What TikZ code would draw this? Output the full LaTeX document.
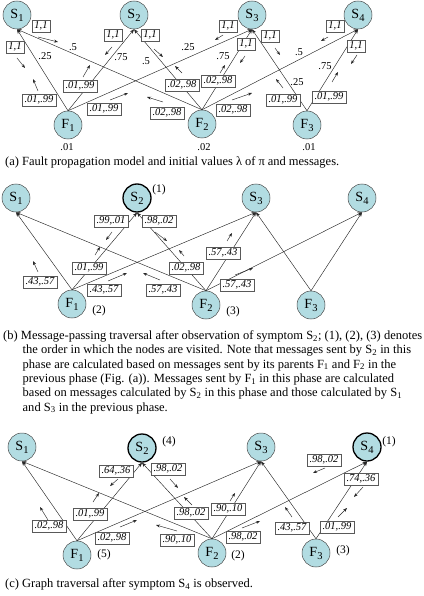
\documentclass[tikz,border=0pt]{standalone}
\usepackage{fontspec}
\setmainfont{Liberation Serif}
\usetikzlibrary{arrows.meta}
\definecolor{nodeblue}{RGB}{178,220,226}
\newcommand\msgarrow[3]{\coordinate (#1s) at (#2); \coordinate (#1e) at (#3); \draw[marr] (#1s) -- (#1e);}
\newcommand\nsub[1]{\raisebox{-3pt}{\fontsize{10.5}{10.5}\selectfont #1}}
\begin{document}
\begin{tikzpicture}[x=1pt,y=-1pt,
  fnode/.style={circle,draw=black!70,fill=nodeblue,line width=0.5pt,minimum size=28pt,inner sep=0pt,font=\fontsize{14}{14}\selectfont},
  obs/.style={line width=1.3pt,draw=black},
  edge/.style={draw=black!85,line width=0.45pt,-{Stealth[length=4.5pt,width=3.4pt]}},
  marr/.style={draw=black!85,line width=0.45pt,-{Stealth[length=4pt,width=3pt]}},
  msg/.style={draw=black!65,fill=white,line width=0.45pt,inner xsep=2.5pt,inner ysep=0pt,minimum height=12.5pt,font=\fontsize{10.5}{10.5}\selectfont\itshape},
  wlab/.style={font=\fontsize{10.5}{10.5}\selectfont,inner sep=0pt},
  ord/.style={font=\fontsize{11.5}{11.5}\selectfont,inner sep=0pt},
  captxt/.style={anchor=base west,align=left,inner sep=0pt,font=\fontsize{12.5}{14.3}\selectfont}
]
\useasboundingbox (0,0) rectangle (423,596);
% ================= panel (a)
\node[fnode] (aS1) at (17,15) {S\nsub{1}};
\node[fnode] (aS2) at (134,15) {S\nsub{2}};
\node[fnode] (aS3) at (252,15) {S\nsub{3}};
\node[fnode] (aS4) at (358,15) {S\nsub{4}};
\node[fnode] (aF1) at (68,125) {F\nsub{1}};
\node[fnode] (aF2) at (202,124) {F\nsub{2}};
\node[fnode] (aF3) at (307,125) {F\nsub{3}};
\foreach \f/\s in {F1/S1,F1/S2,F1/S3,F2/S1,F2/S2,F2/S3,F2/S4,F3/S3,F3/S4}
  \draw[edge] (a\f.north) -- (a\s.south);
\node[wlab] (aw1) at (45,56) {.25};
\node[wlab] (aw2) at (73,47) {.5};
\node[wlab] (aw3) at (121,57) {.75};
\node[wlab] (aw4) at (146,61) {.5};
\node[wlab] (aw5) at (188,47) {.25};
\node[wlab] (aw6) at (223,56) {.75};
\node[wlab] (aw7) at (299,52) {.5};
\node[wlab] (aw8) at (297,82) {.25};
\node[wlab] (aw9) at (325,66) {.75};
\node[wlab] (ap1) at (67,147) {.01};
\node[wlab] (ap2) at (204,147) {.02};
\node[wlab] (ap3) at (309,147) {.01};
\node[msg] (am1) at (15,47) {1,1};
\node[msg] (am2) at (41,26) {1,1};
\node[msg] (am3) at (39,100) {.01,.99};
\node[msg] (am4) at (113,35) {1,1};
\node[msg] (am5) at (80,86) {.01,.99};
\node[msg] (am6) at (150,35) {1,1};
\node[msg] (am7) at (182,85) {.02,.98};
\node[msg] (am8) at (167,113) {.02,.98};
\node[msg] (am9) at (104,109) {.01,.99};
\node[msg] (am10) at (228,26) {1,1};
\node[msg] (am11) at (218,81) {.02,.98};
\node[msg] (am12) at (246,44) {1,1};
\node[msg] (am13) at (233,110) {.02,.98};
\node[msg] (am14) at (335,26) {1,1};
\node[msg] (am15) at (283,100) {.01,.99};
\node[msg] (am16) at (270,36) {1,1};
\node[msg] (am17) at (329,97) {.01,.99};
\node[msg] (am18) at (356,46) {1,1};
\msgarrow{aa1}{17,58}{25,68}
\msgarrow{aa2}{38,37}{58,42}
\msgarrow{aa3}{38,91}{33,79}
\msgarrow{aa4}{112,47}{105,55}
\msgarrow{aa5}{83,77}{90,65}
\msgarrow{aa6}{154,49}{163,57}
\msgarrow{aa7}{182,73}{175,66}
\msgarrow{aa8}{163,102}{147,97}
\msgarrow{aa9}{110,100}{128,93}
\msgarrow{aa10}{223,35}{215,40}
\msgarrow{aa11}{220,73}{225,65}
\msgarrow{aa12}{245,56}{240,63}
\msgarrow{aa13}{232,100}{252,93}
\msgarrow{aa14}{328,37}{321,41}
\msgarrow{aa15}{283,88}{276,79}
\msgarrow{aa16}{275,48}{280,55}
\msgarrow{aa17}{332,82}{338,72}
\msgarrow{aa18}{357,55}{351,64}
\node[captxt] (capa) at (5,165.5) {\makebox[334pt][s]{(a) Fault propagation model and initial values λ of π and messages.}};
% ================= panel (b)
\node[fnode] (bS1) at (16,198) {S\nsub{1}};
\node[fnode,obs] (bS2) at (137,198) {S\nsub{2}};
\node[fnode] (bS3) at (256,198) {S\nsub{3}};
\node[fnode] (bS4) at (362,198) {S\nsub{4}};
\node[fnode] (bF1) at (72,304) {F\nsub{1}};
\node[fnode] (bF2) at (206,305) {F\nsub{2}};
\node[fnode] (bF3) at (311,305) {F\nsub{3}};
\foreach \f/\s in {F1/S1,F1/S2,F1/S3,F2/S1,F2/S2,F2/S3,F2/S4,F3/S3,F3/S4}
  \draw[edge] (b\f.north) -- (b\s.south);
\node[ord] (bo1) at (159,190) {(1)};
\node[ord] (bo2) at (99,311) {(2)};
\node[ord] (bo3) at (233,312) {(3)};
\node[msg] (bm1) at (40,282) {.43,.57};
\node[msg] (bm2) at (111,221) {.99,.01};
\node[msg] (bm3) at (89,268) {.01,.99};
\node[msg] (bm4) at (104,290) {.43,.57};
\node[msg] (bm5) at (163,290) {.57,.43};
\node[msg] (bm6) at (159,221) {.98,.02};
\node[msg] (bm7) at (186,268) {.02,.98};
\node[msg] (bm8) at (223,253) {.57,.43};
\node[msg] (bm9) at (237,285) {.57,.43};
\msgarrow{ba1}{38,272}{33,261}
\msgarrow{ba2}{112,232}{106,240}
\msgarrow{ba3}{95,255}{100,247}
\msgarrow{ba4}{108,281}{127,273}
\msgarrow{ba5}{160,280}{143,273}
\msgarrow{ba6}{155,232}{167,241}
\msgarrow{ba7}{184,256}{179,250}
\msgarrow{ba8}{227,241}{232,233}
\msgarrow{ba9}{235,275}{253,268}
\node[captxt] (capb) at (3,411) {(b) Message-passing traversal after observation of symptom S\textsubscript{2}; (1), (2), (3) denotes\\
\hspace*{19.5pt}the order in which the nodes are visited. Note that messages sent by S\textsubscript{2} in this\\
\hspace*{19.5pt}phase are calculated based on messages sent by its parents F\textsubscript{1} and F\textsubscript{2} in the\\
\hspace*{19.5pt}previous phase (Fig. (a)). Messages sent by F\textsubscript{1} in this phase are calculated\\
\hspace*{19.5pt}based on messages calculated by S\textsubscript{2} in this phase and those calculated by S\textsubscript{1}\\
\hspace*{19.5pt}and S\textsubscript{3} in the previous phase.};
% ================= panel (c)
\node[fnode] (cS1) at (22,447) {S\nsub{1}};
\node[fnode,obs] (cS2) at (142,448) {S\nsub{2}};
\node[fnode] (cS3) at (261,447) {S\nsub{3}};
\node[fnode,obs] (cS4) at (367,447) {S\nsub{4}};
\node[fnode] (cF1) at (77,555) {F\nsub{1}};
\node[fnode] (cF2) at (212,553) {F\nsub{2}};
\node[fnode] (cF3) at (316,553) {F\nsub{3}};
\foreach \f/\s in {F1/S1,F1/S2,F1/S3,F2/S1,F2/S2,F2/S3,F2/S4,F3/S3,F3/S4}
  \draw[edge] (c\f.north) -- (c\s.south);
\node[ord] (co4) at (169,442) {(4)};
\node[ord] (co1) at (389,442) {(1)};
\node[ord] (co5) at (104,555) {(5)};
\node[ord] (co2) at (238,556) {(2)};
\node[ord] (co3) at (343,551) {(3)};
\node[msg] (cm1) at (49,526) {.02,.98};
\node[msg] (cm2) at (116,471) {.64,.36};
\node[msg] (cm3) at (90,514) {.01,.99};
\node[msg] (cm4) at (112,538) {.02,.98};
\node[msg] (cm5) at (168,469) {.98,.02};
\node[msg] (cm6) at (191,513) {.98,.02};
\node[msg] (cm7) at (228,509) {.90,.10};
\node[msg] (cm8) at (177,540) {.90,.10};
\node[msg] (cm9) at (243,537) {.98,.02};
\node[msg] (cm10) at (324,460) {.98,.02};
\node[msg] (cm11) at (292,528) {.43,.57};
\node[msg] (cm12) at (337,527) {.01,.99};
\node[msg] (cm13) at (361,479) {.74,.36};
\msgarrow{ca1}{48,520}{40,507}
\msgarrow{ca2}{118,479}{110,486}
\msgarrow{ca3}{93,502}{99,493}
\msgarrow{ca4}{120,527}{137,520}
\msgarrow{ca5}{170,479}{178,488}
\msgarrow{ca6}{192,505}{184,497}
\msgarrow{ca7}{230,501}{235,493}
\msgarrow{ca8}{177,531}{156,525}
\msgarrow{ca9}{242,528}{260,521}
\msgarrow{ca10}{325,468}{313,473}
\msgarrow{ca11}{292,517}{285,507}
\msgarrow{ca12}{338,517}{347,508}
\msgarrow{ca13}{363,487}{354,497}
\node[captxt] (capc) at (5,587.5) {(c) Graph traversal after symptom S\textsubscript{4} is observed.};
\end{tikzpicture}
\end{document}
